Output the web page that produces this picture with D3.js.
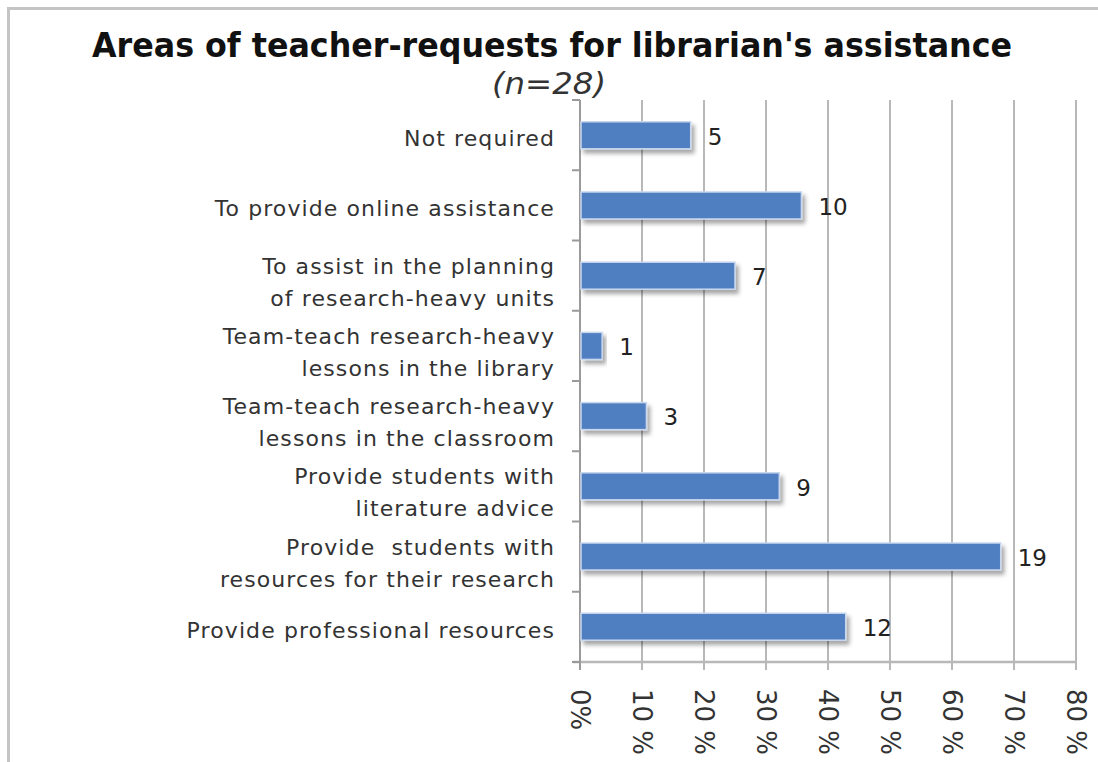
<!DOCTYPE html>
<html>
<head>
<meta charset="utf-8">
<script src="https://cdn.jsdelivr.net/npm/d3@7"></script>
<style>
  html, body { margin: 0; padding: 0; background: #fff; }
  svg { display: block; }
</style>
</head>
<body>
<svg id="chart" width="1098" height="762"></svg>
<script>
// Survey responses (n = 28 teachers)
const categories = [
  ["Not required"],
  ["To provide online assistance"],
  ["To assist in the planning", "of research-heavy units"],
  ["Team-teach research-heavy", "lessons in the library"],
  ["Team-teach research-heavy", "lessons in the classroom"],
  ["Provide students with", "literature advice"],
  ["Provide  students with", "resources for their research"],
  ["Provide professional resources"]
];
const counts = [5, 10, 7, 1, 3, 9, 19, 12];
const respondents = 28;
const tickValues = [0, 10, 20, 30, 40, 50, 60, 70, 80];
const tickLabels = ["0%", "10 %", "20 %", "30 %", "40 %", "50 %", "60 %", "70 %", "80 %"];
const titleText = "Areas of teacher-requests for librarian's assistance";
const subtitleText = "(n=28)";

const svg = d3.select("#chart");
const font = "'DejaVu Sans', Verdana, sans-serif";

// outer frame (top and left edges visible)
svg.append("path")
  .attr("d", "M8.5,762 L8.5,8.5 L1098,8.5")
  .attr("fill", "none").attr("stroke", "#c4c4c4").attr("stroke-width", 3);

const plot = { left: 580, right: 1076, top: 100, bottom: 662 };

const x = d3.scaleLinear().domain([0, 80]).range([plot.left, plot.right]);
const keys = categories.map((c, i) => i);
const y = d3.scaleBand().domain(keys).range([plot.top, plot.bottom]).paddingInner(0.615).paddingOuter(0.31);
const band = d3.scaleBand().domain(keys).range([plot.top, plot.bottom]);

// drop shadow for bars
const defs = svg.append("defs");
const f = defs.append("filter").attr("id", "shadow").attr("x", "-10%").attr("y", "-30%").attr("width", "130%").attr("height", "190%");
f.append("feDropShadow").attr("dx", 3).attr("dy", 4).attr("stdDeviation", 2.2)
  .attr("flood-color", "#000").attr("flood-opacity", 0.35);

// vertical gridlines
svg.append("g").selectAll("line").data(tickValues).join("line")
  .attr("x1", d => x(d)).attr("x2", d => x(d))
  .attr("y1", plot.top).attr("y2", plot.bottom + 8)
  .attr("stroke", "#b8b8b8").attr("stroke-width", 2);

// bottom axis line
svg.append("line")
  .attr("x1", plot.left - 7).attr("x2", plot.right)
  .attr("y1", plot.bottom).attr("y2", plot.bottom)
  .attr("stroke", "#b8b8b8").attr("stroke-width", 2.5);

// left axis with ticks at band boundaries
svg.append("line")
  .attr("x1", plot.left).attr("x2", plot.left)
  .attr("y1", plot.top).attr("y2", plot.bottom + 8)
  .attr("stroke", "#9a9a9a").attr("stroke-width", 2);
const bounds = keys.map(k => band(k)).concat([plot.bottom]);
svg.append("g").selectAll("line").data(bounds).join("line")
  .attr("x1", plot.left - 8).attr("x2", plot.left)
  .attr("y1", d => d).attr("y2", d => d)
  .attr("stroke", "#9a9a9a").attr("stroke-width", 2);

// bars
const pct = counts.map(c => c / respondents * 100);
svg.append("g").selectAll("rect").data(keys).join("rect")
  .attr("x", x(0) + 1)
  .attr("y", i => y(i))
  .attr("width", i => x(pct[i]) - x(0) - 1)
  .attr("height", y.bandwidth())
  .attr("fill", "#4f7fc1")
  .attr("stroke", "#c9d7ee").attr("stroke-width", 1.5)
  .attr("filter", "url(#shadow)");

// value labels
svg.append("g").selectAll("text").data(keys).join("text")
  .attr("x", i => x(pct[i]) + 17)
  .attr("y", i => y(i) + y.bandwidth() / 2 + 1)
  .attr("dy", "0.36em")
  .attr("font-family", font).attr("font-size", 23).attr("fill", "#222")
  .text(i => counts[i]);

// category labels
const catG = svg.append("g").selectAll("text").data(keys).join("text")
  .attr("text-anchor", "end")
  .attr("font-family", font).attr("font-size", 22).attr("fill", "#333")
  .attr("letter-spacing", 1.1)
  .attr("transform", i => {
    const n = categories[i].length;
    const cy = band(i) + band.bandwidth() / 2 + (n > 1 ? 6 : 3);
    return `translate(555,${cy})`;
  });
catG.selectAll("tspan").data(i => categories[i].map((t, j) => ({ t, j, n: categories[i].length })))
  .join("tspan")
  .attr("x", 0)
  .attr("y", d => (d.j - (d.n - 1) / 2) * 32)
  .attr("dy", "0.36em")
  .attr("xml:space", "preserve")
  .style("white-space", "pre")
  .text(d => d.t);

// rotated percentage tick labels
svg.append("g").selectAll("text").data(tickValues).join("text")
  .attr("transform", d => `translate(${x(d)},689) rotate(90)`)
  .attr("dy", "0.36em")
  .attr("font-family", font).attr("font-size", 26).attr("fill", "#333")
  .attr("xml:space", "preserve").style("white-space", "pre")
  .text((d, i) => tickLabels[i]);

// title
svg.append("text")
  .attr("x", 552).attr("y", 57)
  .attr("text-anchor", "middle")
  .attr("font-family", font).attr("font-weight", "bold").attr("font-size", 33)
  .attr("textLength", 920).attr("lengthAdjust", "spacingAndGlyphs")
  .attr("fill", "#111")
  .text(titleText);

svg.append("text")
  .attr("x", 549).attr("y", 94)
  .attr("text-anchor", "middle")
  .attr("font-family", font).attr("font-style", "italic").attr("font-size", 30)
  .attr("textLength", 114).attr("lengthAdjust", "spacingAndGlyphs")
  .attr("fill", "#333")
  .text(subtitleText);
</script>
</body>
</html>
